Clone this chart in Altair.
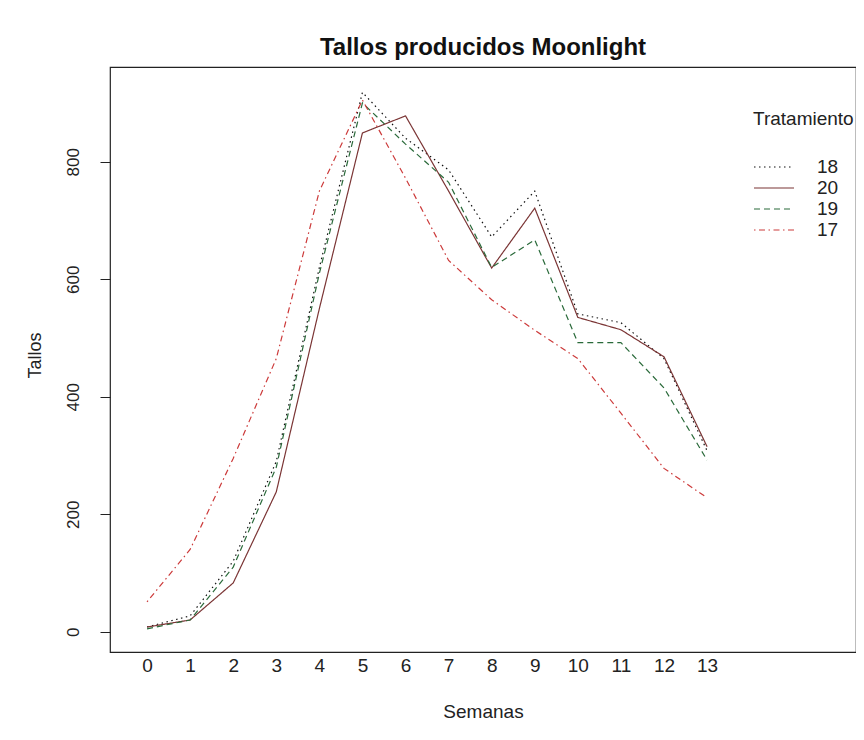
import altair as alt
import pandas as pd

weeks = list(range(14))
trat_order = ["18", "20", "19", "17"]
t18 = [8, 27, 120, 290, 620, 918, 840, 786, 672, 750, 541, 526, 465, 308]
t20 = [8, 20, 83, 238, 550, 849, 878, 750, 619, 721, 535, 514, 468, 315]
t19 = [5, 20, 110, 280, 610, 900, 830, 765, 620, 667, 492, 492, 415, 292]
t17 = [51, 140, 295, 465, 750, 905, 772, 632, 565, 513, 465, 372, 278, 228]
y_ticks = [0, 200, 400, 600, 800]

series = {"18": t18, "20": t20, "19": t19, "17": t17}
rows = []
for k, vals in series.items():
    for w, v in zip(weeks, vals):
        rows.append({"Semanas": w, "Tallos": v, "Tratamiento": k})
df = pd.DataFrame(rows)

colors = ["#111111", "#7b3535", "#2a6a3a", "#cc3a3a"]
dashes = [[1.5, 3.5], [1, 0], [6, 4], [1.5, 3.5, 6, 3.5]]

FONT = "Liberation Sans"

chart = alt.Chart(df).mark_line(strokeWidth=1.2, clip=True).encode(
    x=alt.X("Semanas:Q",
            scale=alt.Scale(domain=[-0.86, 16.457], nice=False, zero=False),
            axis=alt.Axis(values=weeks, title="Semanas", grid=False, domain=False,
                          ticks=False, tickSize=0, labelPadding=13, labelBaseline="middle",
                          labelFontSize=19, labelFont=FONT, labelColor="#222222",
                          labelFlush=False, labelOverlap=False,
                          titleFont=FONT, titleFontSize=19, titleFontWeight="normal",
                          titleColor="#222222", titleY=59, titleBaseline="middle")),
    y=alt.Y("Tallos:Q",
            scale=alt.Scale(domain=[-34.5, 961.2], nice=False, zero=False),
            axis=alt.Axis(values=y_ticks, title="Tallos", grid=False, domain=False,
                          ticks=True, tickSize=10, tickColor="#222222", tickWidth=1,
                          labelAngle=270, labelAlign="center", labelBaseline="middle",
                          labelPadding=27, labelFontSize=17, labelFont=FONT,
                          labelColor="#222222", labelFlush=False, labelOverlap=False,
                          titleFont=FONT, titleFontSize=18, titleFontWeight="normal",
                          titleColor="#222222", titleAngle=270, titleX=-75, titleY=288,
                          titleAlign="center", titleBaseline="middle")),
    color=alt.Color("Tratamiento:N",
                    scale=alt.Scale(domain=trat_order, range=colors),
                    sort=trat_order,
                    legend=alt.Legend(orient="none", legendX=643, legendY=43,
                                      title="Tratamiento", titleFont=FONT,
                                      titleFontSize=19, titleFontWeight="normal",
                                      titleColor="#222222", titlePadding=27,
                                      labelFont=FONT, labelFontSize=19,
                                      labelColor="#222222", labelOffset=42,
                                      rowPadding=0, symbolType="M-1,0H3",
                                      symbolSize=400, symbolStrokeWidth=1.2,
                                      symbolFillColor="transparent",
                                      padding=0)),
    strokeDash=alt.StrokeDash("Tratamiento:N",
                              scale=alt.Scale(domain=trat_order, range=dashes),
                              sort=trat_order, legend=None),
).properties(
    width=746, height=585,
    background="white",
    title=alt.TitleParams("Tallos producidos Moonlight", font=FONT, fontSize=24,
                          fontWeight="bold", color="#111111", anchor="middle", offset=7),
    autosize=alt.AutoSizeParams(type="none"),
    padding={"left": 102, "top": 59, "right": 0, "bottom": 72},
).configure_view(stroke="#222222", strokeWidth=1.2)

chart.save("out.html", embed_options={"renderer": "svg", "actions": False})
